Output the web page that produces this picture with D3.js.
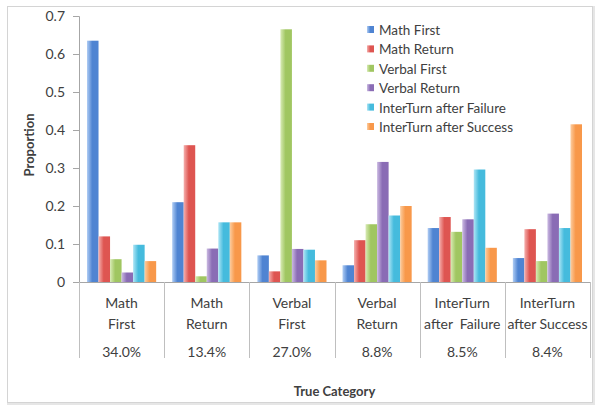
<!DOCTYPE html>
<html>
<head>
<meta charset="utf-8">
<script src="https://cdn.jsdelivr.net/npm/d3@7"></script>
<style>
    body { margin: 0; background: #fff; }
    svg text { font-family: Lato, "Open Sans", sans-serif; fill: #404040; }
</style>
</head>
<body>
<div id="chart"></div>
<script>
// categories shown on the x axis (two lines each) and their share
const categories = ["Math First", "Math Return", "Verbal First", "Verbal Return", "InterTurn after Failure", "InterTurn after Success"];
const catLines = [["Math", "First"], ["Math", "Return"], ["Verbal", "First"], ["Verbal", "Return"], ["InterTurn", "after  Failure"], ["InterTurn", "after Success"]];
const catShare = ["34.0%", "13.4%", "27.0%", "8.8%", "8.5%", "8.4%"];

// series (legend order)
const series = ["Math First", "Math Return", "Verbal First", "Verbal Return", "InterTurn after Failure", "InterTurn after Success"];

// one array per series, one value per true category
const mathFirst = [0.635, 0.21, 0.07, 0.044, 0.142, 0.063];
const mathReturn = [0.12, 0.36, 0.028, 0.11, 0.171, 0.139];
const verbalFirst = [0.06, 0.015, 0.665, 0.152, 0.132, 0.055];
const verbalReturn = [0.025, 0.088, 0.087, 0.316, 0.165, 0.18];
const interFailure = [0.098, 0.157, 0.085, 0.175, 0.296, 0.142];
const interSuccess = [0.055, 0.157, 0.057, 0.2, 0.09, 0.415];

const yTicks = [0, 0.1, 0.2, 0.3, 0.4, 0.5, 0.6, 0.7];

const values = [mathFirst, mathReturn, verbalFirst, verbalReturn, interFailure, interSuccess];
const colors = ["#4f84d2", "#de5551", "#a0c661", "#8a6cb5", "#45bbdd", "#f8984a"];
const lights = ["#b0cdf4", "#f5b0ae", "#d8ebb5", "#cbbae2", "#aee5f5", "#fccda0"];

const width = 600, height = 411;
const svg = d3.select("#chart").append("svg")
    .attr("width", width)
    .attr("height", height);

// gradients, light on the left edge
const defs = svg.append("defs");
series.forEach((s, i) => {
    const g = defs.append("linearGradient")
        .attr("id", "g" + i)
        .attr("x1", "0").attr("x2", "1").attr("y1", "0").attr("y2", "0");
    g.append("stop").attr("offset", "0%").attr("stop-color", lights[i]);
    g.append("stop").attr("offset", "45%").attr("stop-color", colors[i]);
    g.append("stop").attr("offset", "100%").attr("stop-color", colors[i]);
});

// outer frame
svg.append("rect")
    .attr("x", 8.5).attr("y", 7.5)
    .attr("width", 585).attr("height", 396)
    .attr("fill", "none")
    .attr("stroke", "#e6e6e6")
    .attr("stroke-width", 3);
svg.append("rect")
    .attr("x", 7.5).attr("y", 6.5)
    .attr("width", 585).attr("height", 396)
    .attr("fill", "#fff")
    .attr("stroke", "#d4d4d4");

const plotLeft = 79, plotRight = 590, plotTop = 16, plotBottom = 282;

const y = d3.scaleLinear().domain([0, 0.7]).range([plotBottom, plotTop]);
const x = d3.scaleBand().domain(categories).range([plotLeft, plotRight]).padding(0);
const xInner = d3.scaleBand().domain(series).range([8, x.bandwidth() - 8]).padding(0);

// y axis
const yAxis = svg.append("g")
    .attr("transform", `translate(${plotLeft},0)`)
    .call(d3.axisLeft(y).tickValues(yTicks).tickFormat(d => d === 0 ? "0" : d3.format(".1f")(d)).tickSize(6).tickPadding(8));
yAxis.select(".domain").attr("stroke", "#a6a6a6").attr("d", `M-6,${plotTop + 0.5}H0.5V${plotBottom}`);
yAxis.selectAll(".tick line").attr("stroke", "#a6a6a6");
yAxis.selectAll(".tick text").attr("font-size", 14).style("fill", "#404040");

// bars
const groups = svg.append("g").selectAll("g")
    .data(categories)
    .join("g")
    .attr("transform", d => `translate(${x(d)},0)`);

groups.selectAll("rect")
    .data((c, ci) => series.map((s, si) => ({ s, si, v: values[si][ci] })))
    .join("rect")
    .attr("x", d => xInner(d.s))
    .attr("width", xInner.bandwidth())
    .attr("y", d => y(d.v))
    .attr("height", d => y(0) - y(d.v))
    .attr("fill", d => "url(#g" + d.si + ")");

// baseline and table grid
svg.append("line")
    .attr("x1", plotLeft - 6).attr("x2", plotRight)
    .attr("y1", plotBottom + 0.5).attr("y2", plotBottom + 0.5)
    .attr("stroke", "#a6a6a6");
svg.append("g").selectAll("line")
    .data(categories.concat(["end"]))
    .join("line")
    .attr("x1", (d, i) => Math.round(plotLeft + i * x.bandwidth()) + 0.5)
    .attr("x2", (d, i) => Math.round(plotLeft + i * x.bandwidth()) + 0.5)
    .attr("y1", plotBottom)
    .attr("y2", 358)
    .attr("stroke", "#bfbfbf");

// category labels
const labels = svg.append("g").selectAll("g")
    .data(categories)
    .join("g")
    .attr("transform", d => `translate(${x(d) + x.bandwidth() / 2},0)`);
labels.each(function (d, i) {
    const g = d3.select(this);
    catLines[i].forEach((t, k) => {
        g.append("text")
            .attr("y", 308 + k * 21)
            .attr("text-anchor", "middle")
            .attr("font-size", 14)
            .attr("xml:space", "preserve")
            .text(t);
    });
    g.append("text")
        .attr("y", 357)
        .attr("text-anchor", "middle")
        .attr("font-size", 14)
        .text(catShare[i]);
});

// axis titles
svg.append("text")
    .attr("x", (plotLeft + plotRight) / 2)
    .attr("y", 396)
    .attr("text-anchor", "middle")
    .attr("font-size", 13)
    .attr("font-weight", "bold")
    .text("True Category");

svg.append("text")
    .attr("transform", "translate(34,145) rotate(-90)")
    .attr("text-anchor", "middle")
    .attr("font-size", 13)
    .attr("font-weight", "bold")
    .text("Proportion");

// legend
const legend = svg.append("g").attr("transform", "translate(367,30)");
const items = legend.selectAll("g")
    .data(series)
    .join("g")
    .attr("transform", (d, i) => `translate(0,${i * 19.4})`);
items.append("rect")
    .attr("x", 0).attr("y", -4)
    .attr("width", 7).attr("height", 7)
    .attr("fill", (d, i) => "url(#g" + i + ")");
items.append("text")
    .attr("x", 12).attr("y", 5)
    .attr("font-size", 13.5)
    .text(d => d);
</script>
</body>
</html>
